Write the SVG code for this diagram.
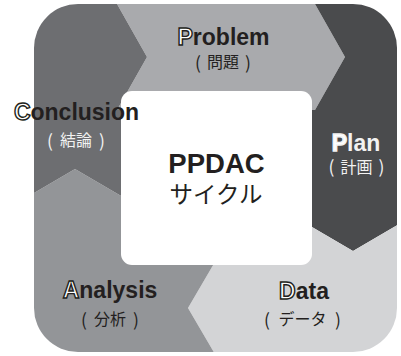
<svg xmlns="http://www.w3.org/2000/svg" width="401" height="356" viewBox="0 0 401 356">
  <defs>
    <clipPath id="ring">
      <rect x="34" y="4" width="363" height="348" rx="44" ry="44"/>
    </clipPath>
    <style>
      .lbl { font-family: "Liberation Sans", Arial, "Noto Sans CJK JP", sans-serif; font-weight: bold; font-size: 23px; text-anchor: middle; fill: #231f20; }
      .sub { font-family: "Noto Sans CJK JP", "Liberation Sans", sans-serif; font-size: 16px; text-anchor: middle; fill: #231f20; }
      .par { font-family: "Noto Sans CJK JP", "Liberation Sans", sans-serif; font-size: 17.5px; text-anchor: middle; fill: #231f20; }
      .hollow { fill: #ffffff; stroke: #231f20; stroke-width: 1.4px; }
      .light { fill: #f2f2f2; }
    </style>
  </defs>

  <rect width="401" height="356" fill="#ffffff"/>

  <!-- Cycle segments, each an arrow clipped by the rounded outer square -->
  <g clip-path="url(#ring)">
    <g id="problem">
      <polygon fill="#a9aaad" points="117,-10 117,4 147,57 117,110 315,110 345,57 315,4 315,-10"/>
    </g>
    <g id="plan">
      <polygon fill="#4a4b4d" points="315,-10 315,4 345,57 315,110 300,110 300,220 353,251 406,220 420,220 420,-10"/>
    </g>
    <g id="data">
      <polygon fill="#d3d4d6" points="300,220 353,251 406,220 420,220 420,370 219,370 219,361 188,308 219,255 300,255"/>
    </g>
    <g id="analysis">
      <polygon fill="#939598" points="219,370 219,361 188,308 219,255 128,255 128,200 75,169 22,200 0,200 0,370"/>
    </g>
    <g id="conclusion">
      <polygon fill="#6d6e71" points="0,200 22,200 75,169 128,200 128,110 117,110 147,57 117,4 117,-10 0,-10"/>
    </g>
  </g>

  <!-- Centre panel -->
  <g id="center">
    <rect x="121" y="91" width="191" height="174" rx="11" ry="11" fill="#ffffff"/>
    <text x="216.5" y="173" class="lbl" style="font-size:27.5px">PPDAC</text>
    <text x="216" y="203" class="sub" style="font-size:23.5px">サイクル</text>
  </g>

  <!-- Segment labels: name with hollow initial, Japanese gloss in brackets -->
  <g id="problem-label">
    <text x="223.5" y="45" class="lbl"><tspan class="hollow">P</tspan>roblem</text>
    <text x="198" y="68.5" class="par">(</text>
    <text x="223" y="68" class="sub">問題</text>
    <text x="248" y="68.5" class="par">)</text>
  </g>
  <g id="plan-label">
    <text x="356" y="151" class="lbl light"><tspan class="hollow" style="stroke:#f2f2f2">P</tspan>lan</text>
    <text x="331.5" y="173" class="par light">(</text>
    <text x="356.5" y="172.5" class="sub light">計画</text>
    <text x="381.5" y="173" class="par light">)</text>
  </g>
  <g id="data-label">
    <text x="304" y="299" class="lbl"><tspan class="hollow">D</tspan>ata</text>
    <text x="267" y="325.5" class="par">(</text>
    <text x="302.5" y="325" class="sub">データ</text>
    <text x="338" y="325.5" class="par">)</text>
  </g>
  <g id="analysis-label">
    <text x="110" y="298" class="lbl"><tspan class="hollow">A</tspan>nalysis</text>
    <text x="84" y="325.5" class="par">(</text>
    <text x="110" y="325" class="sub">分析</text>
    <text x="136" y="325.5" class="par">)</text>
  </g>
  <g id="conclusion-label">
    <text x="76.5" y="120" class="lbl"><tspan class="hollow">C</tspan>onclusion</text>
    <text x="50" y="146.5" class="par light">(</text>
    <text x="76" y="146" class="sub light">結論</text>
    <text x="102" y="146.5" class="par light">)</text>
  </g>
</svg>
